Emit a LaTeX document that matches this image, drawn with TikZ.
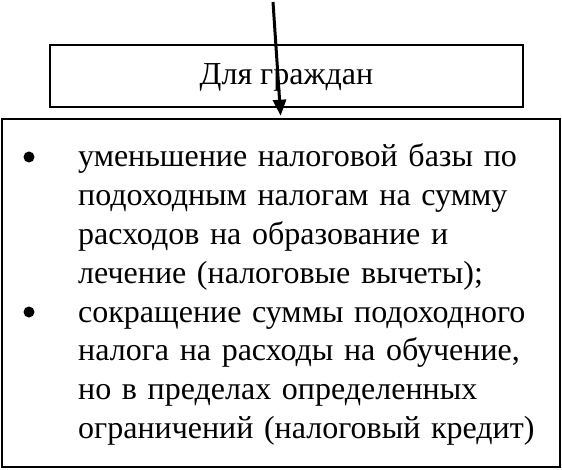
\documentclass[tikz,border=0pt]{standalone}
\usepackage{fontspec}
\setmainfont{Liberation Serif}
\usetikzlibrary{arrows.meta, positioning}
\tikzset{
  hdr/.style={rectangle, draw=black, line width=2pt, minimum width=473pt, minimum height=62pt,
    font=\fontsize{32}{38}\selectfont, text height=22pt, text depth=5pt, inner sep=0pt},
  lst/.style={rectangle, draw=black, line width=2.5pt, minimum width=558pt, minimum height=348pt, inner sep=0pt},
  itm/.style={anchor=base west, text width=478pt, align=left,
    font=\fontsize{32}{38.7}\selectfont, inner sep=0pt},
  blt/.style={circle, fill=black, minimum size=11pt, inner sep=0pt},
  ar/.style={-{Triangle[length=16pt,width=13pt]}, line width=3pt, shorten >=2pt},
}

\begin{document}
\begin{tikzpicture}[x=1pt, y=1pt]
\useasboundingbox (0,0) rectangle (562,-470);

%% ===== NODES =====
\node[hdr] (HDR) at (286.5,-76.5) {Для граждан};
\node[lst] (LST) at (280.75,-293) {};

% -- first item --
\node[blt] (B1) at (29,-157) {};
\node[itm] (T1) at (78,-167) {уменьшение налоговой базы по\\подоходным налогам на сумму\\расходов на образование и\\лечение (налоговые вычеты);};

% -- second item --
\node[blt] (B2) at (29,-312) {};
\node[itm] (T2) at (78,-322) {сокращение суммы подоходного\\налога на расходы на обучение,\\но в пределах определенных\\ограничений (налоговый кредит)};

%% ===== ARROW =====
\coordinate (SRC) at (273,-2);
\draw[ar] (SRC) -- (LST.north);
\end{tikzpicture}
\end{document}
